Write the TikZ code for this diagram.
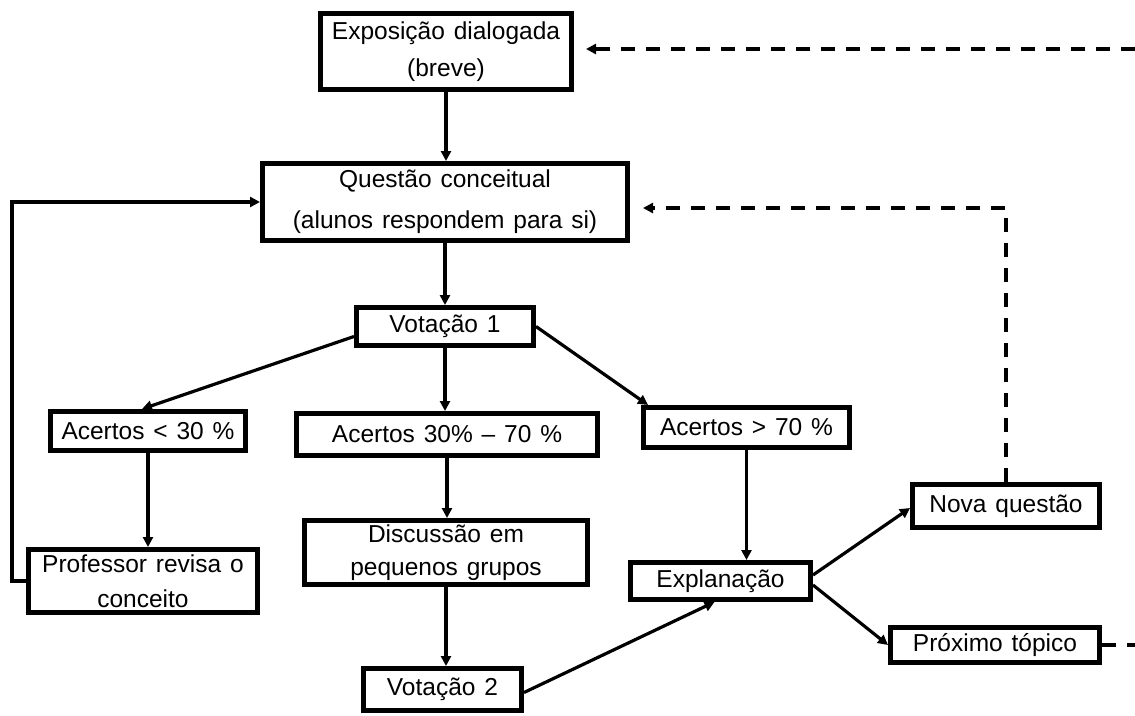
\documentclass[tikz,border=0pt]{standalone}
\usepackage{fontspec}
\setmainfont{Liberation Sans}[WordSpace=1.3]
\usetikzlibrary{arrows.meta}
\begin{document}
\begin{tikzpicture}[x=1pt,y=-1pt,
  box/.style={draw, line width=5pt, inner sep=0pt, align=center,
    font=\fontsize{24.5}{34}\selectfont},
  conn/.style={line width=3.2pt, -{Triangle[length=10pt,width=10pt]}},
  dconn/.style={line width=4pt, dash pattern=on 14pt off 11pt},
  dtip/.style={-{Triangle[length=10pt,width=10pt]}}
]
\useasboundingbox[fill=white] (0,0) rectangle (1135,715);
% boxes
\node[box, minimum width=251pt, minimum height=76pt] (expo) at (446,51.5) {Exposição dialogada\\[3pt](breve)};
\node[box, minimum width=365pt, minimum height=77pt] (quest) at (445,202) {Questão conceitual\\[7pt](alunos respondem para si)};
\node[box, minimum width=177pt, minimum height=38pt] (vot1) at (445,326.5) {Votação 1};
\node[box, minimum width=195pt, minimum height=39pt] (acl) at (148,431) {Acertos < 30 \%};
\node[box, minimum width=301pt, minimum height=42pt] (acm) at (447,434.5) {Acertos 30\% – 70 \%};
\node[box, minimum width=206pt, minimum height=40pt] (ach) at (746.5,427.5) {Acertos > 70 \%};
\node[box, minimum width=229pt, minimum height=63pt] (prof) at (143,581) {Professor revisa o\\[1pt]conceito};
\node[box, minimum width=283pt, minimum height=64pt] (disc) at (446,552.5) {Discussão em\\[-1pt]pequenos grupos};
\node[box, minimum width=158pt, minimum height=42pt] (vot2) at (442.5,689.5) {Votação 2};
\node[box, minimum width=180pt, minimum height=37pt] (expl) at (720.5,581) {Explanação};
\node[box, minimum width=187pt, minimum height=43pt] (nova) at (1006,506) {Nova questão};
\node[box, minimum width=209pt, minimum height=35pt] (prox) at (995,645) {Próximo tópico};
% free ends
\coordinate (topR) at (1135,49);
\coordinate (proxR) at (1135,645);
% solid connectors
\draw[conn] (expo.south) -- (expo.south |- quest.north);
\draw[conn] (quest.south) -- (quest.south |- vot1.north);
\draw[conn] ([yshift=-10pt]vot1.west) -- ([xshift=-6pt]acl.north);
\draw[conn] (vot1.south) -- (vot1.south |- acm.north);
\draw[conn] (vot1.east) -- ([xshift=7pt]ach.north west);
\draw[conn] (acl.south) -- (acl.south |- prof.north);
\draw[conn] (acm.south) -- (acm.south |- disc.north);
\draw[conn] (disc.south) -- (disc.south |- vot2.north);
\draw[conn] ([yshift=4pt]ach.south) -- (ach.south |- expl.north);
\draw[conn] ([yshift=-3pt]vot2.east) -- ([xshift=-6pt]expl.south);
\draw[conn] ([yshift=6pt]expl.east) -- ([yshift=-2pt]nova.west);
\draw[conn] ([yshift=-4pt]expl.east) -- (prox.west);
\draw[conn] (prof.west) -- ++(-14,0) |- (quest.west);
% dashed connectors
\draw[dconn, dtip] (nova.north) |- ([xshift=13pt,yshift=-6pt]quest.east);
\draw[dconn, dtip] (topR) -- ([xshift=12pt,yshift=2.5pt]expo.east);
\draw[dconn] (prox.east) -- (proxR);
\end{tikzpicture}
\end{document}
